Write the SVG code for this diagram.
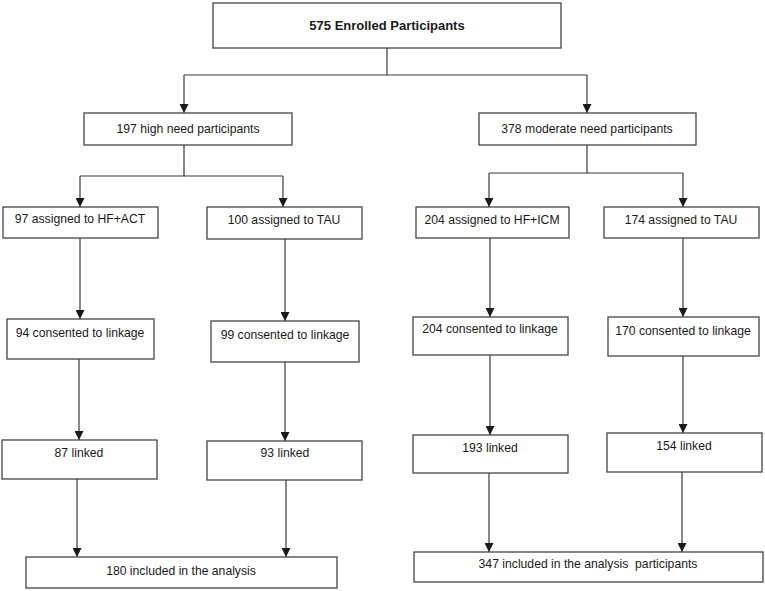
<svg xmlns="http://www.w3.org/2000/svg" width="765" height="591" viewBox="0 0 765 591">
<style>
.box{fill:#fff;stroke:#444;stroke-width:1.3}
.t{font-family:"Liberation Sans",Arial,sans-serif;font-size:12.2px;fill:#1a1a1a;text-anchor:middle;white-space:pre}
.b{font-weight:bold;font-size:13px}
.c{fill:none;stroke:#3a3a3a;stroke-width:1.2}
</style>
<defs>
<marker id="ah" viewBox="0 0 10 10" refX="10" refY="5" markerWidth="9" markerHeight="9" markerUnits="userSpaceOnUse" orient="auto">
<path d="M0,0 L10,5 L0,10 z" fill="#1a1a1a"/>
</marker>
</defs>
<rect width="765" height="591" fill="#fff"/>
<g id="connectors">
<path class="c" d="M387,48 V75"/>
<path class="c" d="M184,75 H587"/>
<path class="c" d="M184,75 V113" marker-end="url(#ah)"/>
<path class="c" d="M587,75 V113" marker-end="url(#ah)"/>
<path class="c" d="M184,145 V176 H80"/>
<path class="c" d="M184,176 H283"/>
<path class="c" d="M80,176 V207" marker-end="url(#ah)"/>
<path class="c" d="M283,176 V207" marker-end="url(#ah)"/>
<path class="c" d="M587,145 V173 H489"/>
<path class="c" d="M587,173 H683"/>
<path class="c" d="M489,173 V207" marker-end="url(#ah)"/>
<path class="c" d="M683,173 V207" marker-end="url(#ah)"/>
<path class="c" d="M80,238 V319" marker-end="url(#ah)"/>
<path class="c" d="M285,239 V321" marker-end="url(#ah)"/>
<path class="c" d="M490,238 V317" marker-end="url(#ah)"/>
<path class="c" d="M683,238 V317" marker-end="url(#ah)"/>
<path class="c" d="M79,359 V440" marker-end="url(#ah)"/>
<path class="c" d="M285,362 V441" marker-end="url(#ah)"/>
<path class="c" d="M490,355 V435" marker-end="url(#ah)"/>
<path class="c" d="M683,356 V433" marker-end="url(#ah)"/>
<path class="c" d="M77,479 V557" marker-end="url(#ah)"/>
<path class="c" d="M286,480 V557" marker-end="url(#ah)"/>
<path class="c" d="M489,473 V552" marker-end="url(#ah)"/>
<path class="c" d="M682,472 V552" marker-end="url(#ah)"/>
</g>
<g id="n_enrolled"><rect class="box" x="213" y="3" width="348" height="45"/><text class="t b" x="387" y="30">575 Enrolled Participants</text></g>
<g id="n_high"><rect class="box" x="84" y="113" width="208" height="32"/><text class="t" x="188" y="133">197 high need participants</text></g>
<g id="n_mod"><rect class="box" x="479" y="113" width="217" height="32"/><text class="t" x="587" y="133">378 moderate need participants</text></g>
<g id="n_hfact"><rect class="box" x="3" y="207" width="155" height="31"/><text class="t" x="80" y="223">97 assigned to HF+ACT</text></g>
<g id="n_tau1"><rect class="box" x="207" y="207" width="155" height="32"/><text class="t" x="284" y="224">100 assigned to TAU</text></g>
<g id="n_hficm"><rect class="box" x="416" y="207" width="153" height="31"/><text class="t" x="492" y="224">204 assigned to HF+ICM</text></g>
<g id="n_tau2"><rect class="box" x="604" y="207" width="155" height="31"/><text class="t" x="681" y="224">174 assigned to TAU</text></g>
<g id="n_c94"><rect class="box" x="7" y="319" width="147" height="40"/><text class="t" x="80" y="337">94 consented to linkage</text></g>
<g id="n_c99"><rect class="box" x="211" y="321" width="148" height="41"/><text class="t" x="285" y="339">99 consented to linkage</text></g>
<g id="n_c204"><rect class="box" x="413" y="317" width="155" height="38"/><text class="t" x="490" y="333">204 consented to linkage</text></g>
<g id="n_c170"><rect class="box" x="608" y="317" width="151" height="39"/><text class="t" x="683" y="335">170 consented to linkage</text></g>
<g id="n_l87"><rect class="box" x="2" y="440" width="155" height="39"/><text class="t" x="79" y="457">87 linked</text></g>
<g id="n_l93"><rect class="box" x="207" y="441" width="155" height="39"/><text class="t" x="285" y="457">93 linked</text></g>
<g id="n_l193"><rect class="box" x="413" y="435" width="155" height="38"/><text class="t" x="490" y="452">193 linked</text></g>
<g id="n_l154"><rect class="box" x="607" y="433" width="155" height="39"/><text class="t" x="684" y="450">154 linked</text></g>
<g id="n_inc180"><rect class="box" x="26" y="557" width="311" height="31"/><text class="t" x="181" y="575">180 included in the analysis</text></g>
<g id="n_inc347"><rect class="box" x="414" y="552" width="349" height="30"/><text class="t" x="588" y="568">347 included in the analysis  participants</text></g>
</svg>
